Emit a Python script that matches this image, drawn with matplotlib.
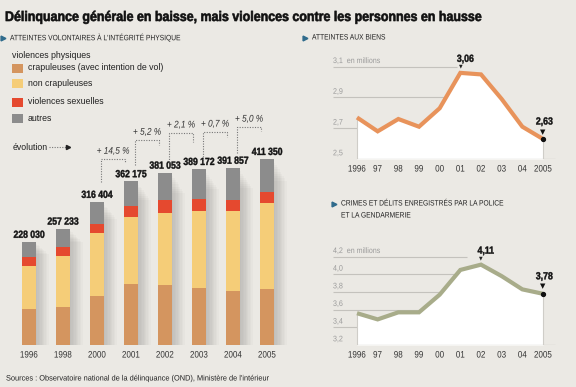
import numpy as np
import matplotlib
matplotlib.use("Agg")
import matplotlib.pyplot as plt
from matplotlib.patches import Rectangle
from matplotlib.patheffects import AbstractPathEffect
from matplotlib.transforms import Affine2D

plt.rcParams['font.family'] = ['Liberation Sans', 'DejaVu Sans']

# --- data -------------------------------------------------------------
bar_years = ["1996", "1998", "2000", "2001", "2002", "2003", "2004", "2005"]
totals = [228030, 257233, 316404, 362175, 381053, 389172, 391857, 411350]
crapuleuses = [79600, 84000, 108000, 135000, 133000, 126000, 119000, 124000]
non_crapuleuses = [95000, 113000, 139000, 148000, 159000, 170000, 177000, 190000]
sexuelles = [20000, 20000, 20000, 24000, 29000, 27000, 24000, 24000]
autres = [t - a - b - c for t, a, b, c in zip(totals, crapuleuses, non_crapuleuses, sexuelles)]

line_years = ["1996", "97", "98", "99", "00", "01", "02", "03", "04", "2005"]
biens = [2.77, 2.68, 2.76, 2.71, 2.83, 3.06, 3.05, 2.89, 2.71, 2.63]
crimes = [3.56, 3.49, 3.57, 3.57, 3.77, 4.05, 4.11, 3.98, 3.83, 3.78]

# --- style ------------------------------------------------------------
BG = "#ebe9e4"
C_BROWN = "#d4955f"
C_YELLOW = "#f5cd78"
C_RED = "#e5492f"
C_GRAY = "#8c8c8c"
C_ORANGE = "#e8935b"
C_GREEN = "#a8ac8a"
C_TEAL = "#2f6b8c"
C_TICK = "#9a9a9a"


class Condense(AbstractPathEffect):
    # squeeze text horizontally (the original uses a condensed face),
    # optional thin outline to make it look heavier
    def __init__(self, sx=0.85, ha="left", stroke=0.0):
        super().__init__()
        self.sx, self.ha, self.stroke = sx, ha, stroke

    def draw_path(self, renderer, gc, tpath, affine, rgbFace=None):
        w = tpath.vertices[:, 0].max() if len(tpath.vertices) else 0
        c = {"left": 0, "center": w / 2, "right": w}[self.ha]
        t = Affine2D().translate(-c, 0).scale(self.sx, 1).translate(c, 0)
        gc0 = renderer.new_gc()
        gc0.copy_properties(gc)
        if self.stroke and rgbFace is not None:
            gc0.set_linewidth(self.stroke)
            gc0.set_foreground(rgbFace)
        renderer.draw_path(gc0, tpath, t + affine, rgbFace)
        gc0.restore()


def cz(sx, ha="left", stroke=0.0):
    return [Condense(sx, ha, stroke)]


W, H = 576, 387
fig = plt.figure(figsize=(W / 100, H / 100), dpi=100)
fig.patch.set_facecolor(BG)


def px_axes(x0, y0, x1, y1):
    # axes from pixel box (top-left origin)
    return fig.add_axes([x0 / W, (H - y1) / H, (x1 - x0) / W, (y1 - y0) / H])


# --- stacked bars -----------------------------------------------------
PX_PER_UNIT = 1 / 2212.0
axb = px_axes(12, 40, 290, 345)
axb.set_xlim((12 - 29) / 34, (290 - 29) / 34)
axb.set_ylim(0, 305 / PX_PER_UNIT)
axb.axis('off')

x = np.arange(len(bar_years))
bw = 14 / 34

# soft shadow right of each bar
for xi, t in zip(x, totals):
    for k in range(9):
        axb.add_patch(Rectangle((xi + bw / 2, 0), (k + 1) * 1.4 / 34, t * (0.98 - 0.012 * k),
                                color="#505050", alpha=0.03, lw=0, zorder=1))

bottom = np.zeros(len(x))
for vals, col in [(crapuleuses, C_BROWN), (non_crapuleuses, C_YELLOW),
                  (sexuelles, C_RED), (autres, C_GRAY)]:
    axb.bar(x, vals, bw, bottom=bottom, color=col, lw=0, zorder=3)
    bottom += np.array(vals)

for xi, t, yr in zip(x, totals, bar_years):
    axb.annotate(f"{t:,}".replace(",", " "), (xi, t), xytext=(0, 1.5),
                 textcoords="offset points", ha="center", va="bottom",
                 fontsize=7.4, fontweight="bold", color="#111",
                 path_effects=cz(0.84, "center", 0.3))
    axb.annotate(yr, (xi, 0), xytext=(0, -4), textcoords="offset points",
                 ha="center", va="top", fontsize=6.8, color="#333",
                 path_effects=cz(0.85, "center"))

# evolution brackets (start, top, end heights in bar units)
br_start = [360e3, 398e3, 405e3, 405e3, 425e3]
br_top = [411e3, 453e3, 469e3, 471e3, 482e3]
br_end = [405e3, 442e3, 449e3, 460e3, 473e3]
dot = dict(color="#777", lw=0.8, ls=(0, (1, 1.3)), zorder=4)
for k in range(5):
    i = k + 2
    xs, xe = i + 0.12, i + 1 - 0.17
    axb.plot([xs, xs, xe, xe], [br_start[k], br_top[k], br_top[k], br_end[k]], **dot)
    pct = (totals[i + 1] / totals[i] - 1) * 100
    axb.annotate(f"+ {pct:.1f} %".replace(".", ","), ((xs + xe) / 2, br_top[k]),
                 xytext=(0, 2.5), textcoords="offset points", ha="center",
                 va="bottom", fontsize=7, style="italic", color="#333",
                 path_effects=cz(0.85, "center"))

# --- line charts ------------------------------------------------------
X0 = (357 - 333) / 20.667


def line_panel(box, y0, px_unit, values, color, levels, labels, top_end, peak_i):
    ax = px_axes(*box)
    ax.set_xlim(-X0, (box[2] - 357) / 20.667)
    ax.set_ylim(y0, y0 + (box[3] - box[1]) / px_unit)
    ax.axis('off')
    xl = np.arange(len(values))
    v = np.array(values)
    # gridlines stop where they meet the curve
    for lev, lab in zip(levels, labels):
        if lev > v.max():
            xend = top_end
        elif v[0] >= lev:
            xend = 0
        else:
            j = np.argmax(v >= lev)
            xend = j - 1 + (lev - v[j - 1]) / (v[j] - v[j - 1])
        if lev > y0:
            ax.hlines(lev, -X0, xend, color="#c4c2bd", lw=0.8, zorder=1)
        ax.annotate(lab, (-X0, lev), xytext=(0, 1.2), textcoords="offset points",
                    ha="left", va="bottom", fontsize=5.8, color=C_TICK,
                    path_effects=cz(0.88))
    ax.fill_between(xl, y0, v, color="white", lw=0, zorder=2)
    ax.hlines(y0, 0, 9.6, color="#c4c2bd", lw=0.9, zorder=3)
    ax.vlines([0, 9], y0, [v[0], v[-1]], color="#cfcdc8", lw=0.8, zorder=3)
    ax.plot(xl, v, color=color, lw=3, solid_joinstyle="miter",
            solid_capstyle="butt", zorder=4)
    for xi, lab in zip(xl, line_years):
        ax.annotate(lab, (xi, y0), xytext=(0, -4), textcoords="offset points",
                    ha="center", va="top", fontsize=6.8, color="#333",
                    path_effects=cz(0.85, "center"))
    # peak: small arrow head above the line and bold value
    ax.annotate("\u25BC", (peak_i, v[peak_i]), xytext=(0, 3.2), textcoords="offset points",
                ha="center", va="bottom", fontsize=3.4, color="#222",
                family="DejaVu Sans")
    ax.annotate(f"{v[peak_i]:.2f}".replace(".", ","), (peak_i, v[peak_i]),
                xytext=(-2.5, 6.5), textcoords="offset points", ha="left",
                va="bottom", fontsize=7.4, fontweight="bold", color="#111",
                path_effects=cz(0.85, "left", 0.3))
    # last value: dot, arrow head, bold value
    ax.plot([9], [v[-1]], "o", ms=2.8, color="#111", zorder=6)
    ax.annotate("\u25BC", (9, v[-1]), xytext=(0, 3), textcoords="offset points",
                ha="center", va="bottom", fontsize=5, color="#111",
                family="DejaVu Sans")
    ax.annotate(f"{v[-1]:.2f}".replace(".", ","), (9, v[-1]),
                xytext=(1, 9), textcoords="offset points", ha="center",
                va="bottom", fontsize=7.4, fontweight="bold", color="#111",
                path_effects=cz(0.85, "center", 0.3))
    return ax


ax1 = line_panel((333, 50, 560, 159), 2.5, 153.8, biens, C_ORANGE,
                 [3.1, 2.9, 2.7, 2.5], ["3,1  en millions", "2,9", "2,7", "2,5"],
                 4.85, 5)
ax2 = line_panel((333, 230, 560, 345), 3.2, 88.3, crimes, C_GREEN,
                 [4.2, 4.0, 3.8, 3.6, 3.4, 3.2],
                 ["4,2  en millions", "4,0", "3,8", "3,6", "3,4", "3,2"],
                 5.3, 6)

# --- overlay: titles, legend, source ----------------------------------
ov = fig.add_axes([0, 0, 1, 1])
ov.set_xlim(0, W)
ov.set_ylim(H, 0)
ov.axis('off')

ov.text(5, 17, "Délinquance générale en baisse, mais violences contre les personnes en hausse",
        fontsize=10, fontweight="bold", va="center", ha="left", color="#111",
        path_effects=cz(0.895, "left", 0.45))

for tx, ty, s in [(3, 38, "ATTEINTES VOLONTAIRES À L'INTÉGRITÉ PHYSIQUE"),
                  (305, 38, "ATTEINTES AUX BIENS"),
                  (334, 204, "CRIMES ET DÉLITS ENREGISTRÉS PAR LA POLICE")]:
    ov.plot(tx, ty, marker=">", ms=3.5, color=C_TEAL, lw=0)
    ov.text(tx + 7, ty, s, fontsize=5.6, va="center", ha="left", color="#222",
            path_effects=cz(0.86))
ov.text(341, 216, "ET LA GENDARMERIE", fontsize=5.6, va="center", ha="left", color="#222",
        path_effects=cz(0.86))

ov.text(12, 55, "violences physiques", fontsize=6.3, va="center", color="#222")
legend_items = ["crapuleuses (avec intention de vol)", "non crapuleuses",
                "violences sexuelles", "autres"]
for lab, col, yc in zip(legend_items, [C_BROWN, C_YELLOW, C_RED, C_GRAY],
                        [68, 83.5, 102, 118.5]):
    ov.add_patch(Rectangle((12, yc - 4.5), 11, 9, color=col, lw=0))
    ov.text(28, yc, lab, fontsize=6.3, va="center", ha="left", color="#222")

ov.text(13, 147, "évolution", fontsize=6.3, va="center", ha="left", color="#222")
ov.plot([49, 66], [147, 147], color="#777", lw=0.8, ls=(0, (1, 1.3)))
ov.plot(68, 147, marker=">", ms=3, color="#222", lw=0)

ov.text(6, 379, "Sources : Observatoire national de la délinquance (OND), Ministère de l'intérieur",
        fontsize=5.6, va="center", ha="left", color="#222", path_effects=cz(0.95))

fig.savefig("out.png", dpi=100, facecolor=BG)
